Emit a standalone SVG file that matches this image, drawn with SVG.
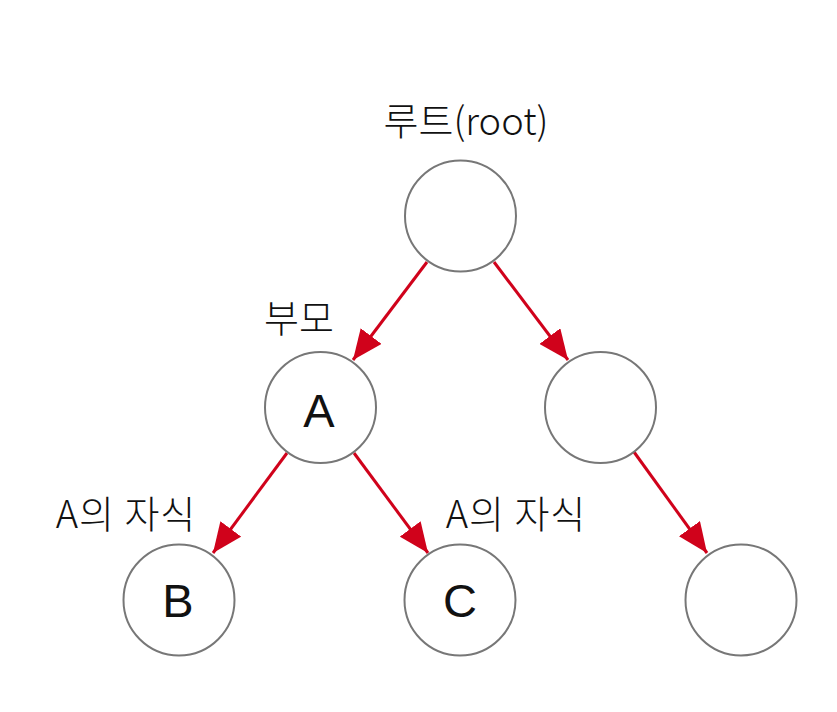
<svg xmlns="http://www.w3.org/2000/svg" width="837" height="712" viewBox="0 0 837 712">
<style>
.node{fill:#fff;stroke:#777;stroke-width:2}
.lbl{font-family:"Noto Sans CJK KR","Liberation Sans",sans-serif;font-weight:300;fill:#111;font-size:38px;text-anchor:middle}
.let{font-family:"Liberation Sans","Noto Sans",sans-serif;fill:#111;font-size:47px;text-anchor:middle}
.edge{stroke:#d0021b;stroke-width:3;fill:none}
</style>
<defs>
<marker id="ah" viewBox="0 0 30 26" refX="30" refY="13" markerWidth="30" markerHeight="26" markerUnits="userSpaceOnUse" orient="auto">
<path d="M0,0 L30,13 L0,26 Z" fill="#d0021b"/>
</marker>
</defs>
<rect width="837" height="712" fill="#fff"/>
<g id="connectors">
<line class="edge" x1="427" y1="262" x2="353" y2="360" marker-end="url(#ah)"/>
<line class="edge" x1="494" y1="262" x2="568" y2="360" marker-end="url(#ah)"/>
<line class="edge" x1="287" y1="453" x2="213" y2="553" marker-end="url(#ah)"/>
<line class="edge" x1="354" y1="453" x2="428" y2="553" marker-end="url(#ah)"/>
<line class="edge" x1="634" y1="452" x2="707" y2="553" marker-end="url(#ah)"/>
</g>
<g id="root">
<circle class="node" cx="460.5" cy="216" r="55.5"/>
<text class="lbl" x="466" y="135">루트(root)</text>
</g>
<g id="nodeA">
<circle class="node" cx="320.5" cy="407.5" r="55.5"/>
<text class="let" x="319" y="427">A</text>
<text class="lbl" x="299" y="332">부모</text>
</g>
<g id="nodeR">
<circle class="node" cx="600.5" cy="407.5" r="55.5"/>
</g>
<g id="nodeB">
<circle class="node" cx="179" cy="600" r="55.5"/>
<text class="let" x="178" y="617">B</text>
<text class="lbl" x="126" y="528" letter-spacing="1">A의 자식</text>
</g>
<g id="nodeC">
<circle class="node" cx="460" cy="600" r="55.5"/>
<text class="let" x="460" y="617">C</text>
<text class="lbl" x="516" y="528" letter-spacing="1">A의 자식</text>
</g>
<g id="nodeRR">
<circle class="node" cx="741" cy="600" r="55.5"/>
</g>
</svg>
